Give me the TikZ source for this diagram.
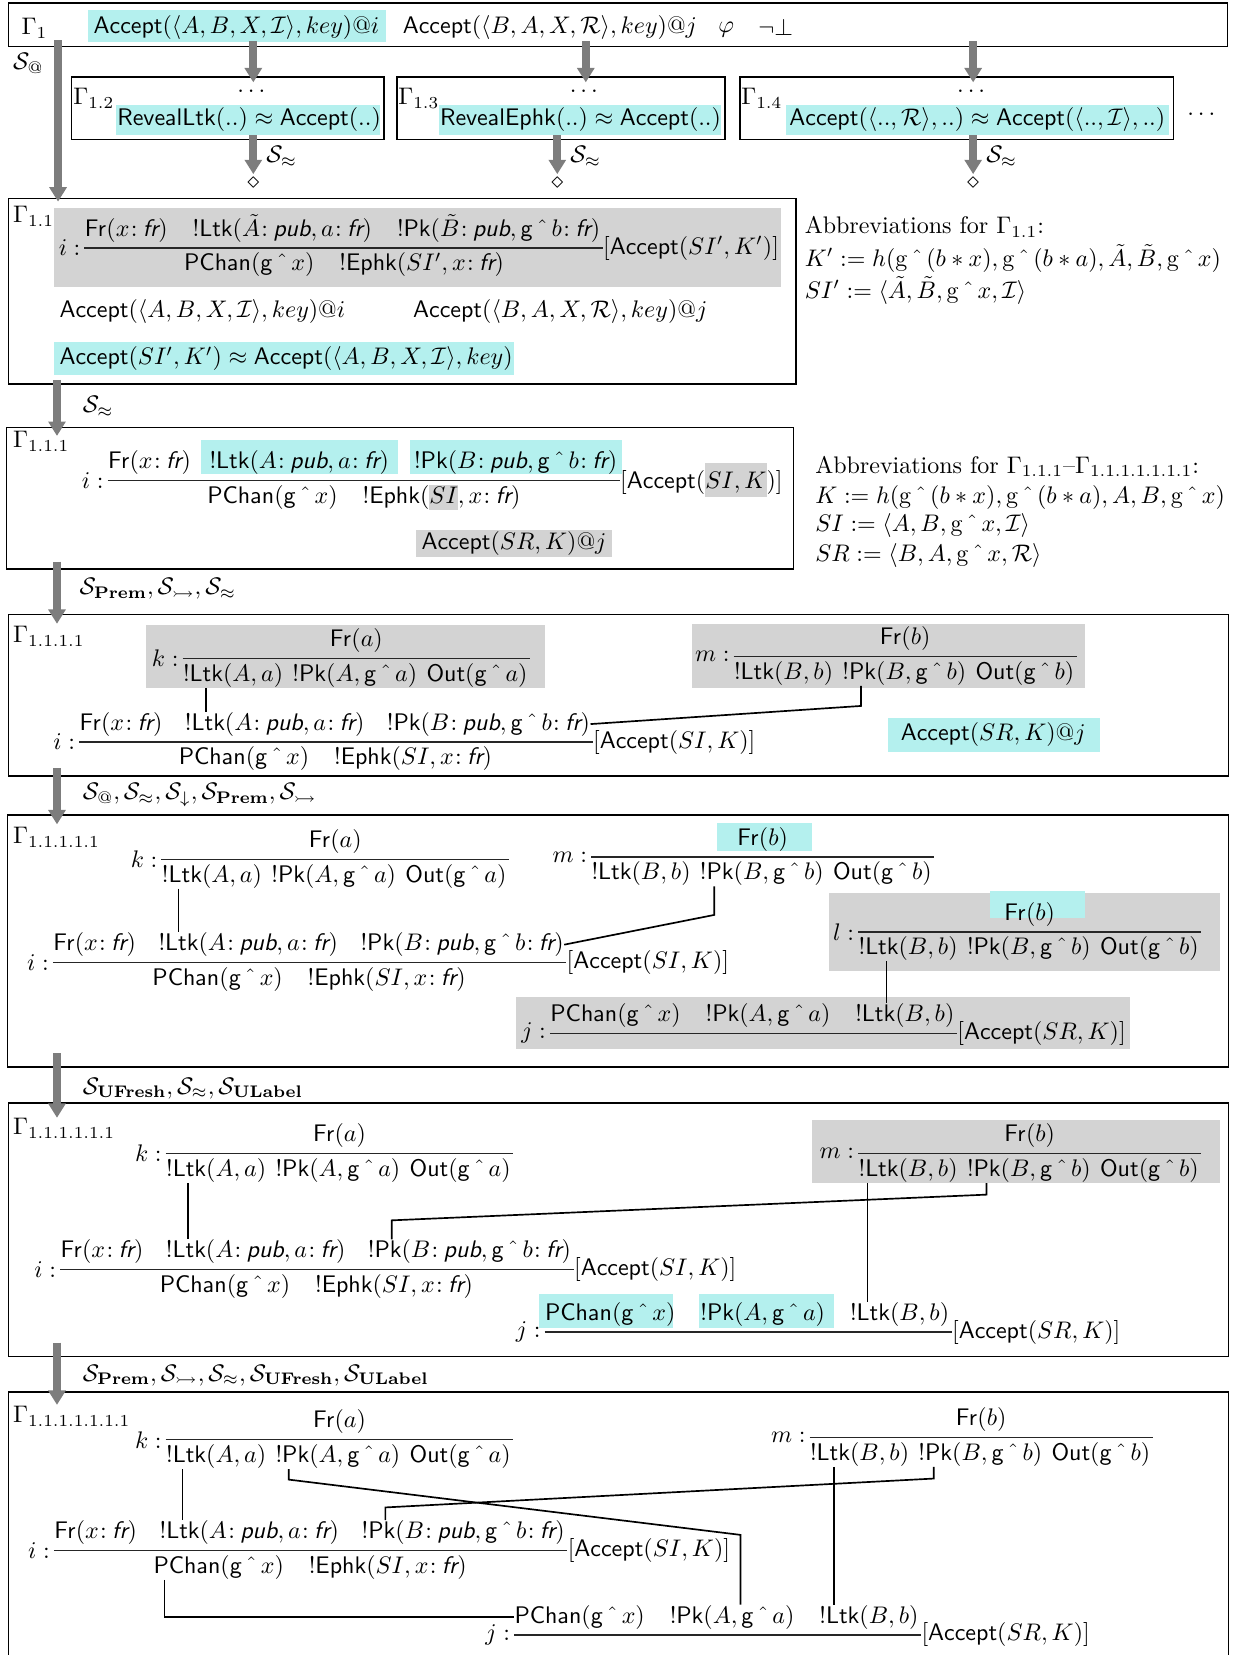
\documentclass[tikz,border=0pt]{standalone}
\usepackage{amsmath,amssymb}
\usetikzlibrary{arrows.meta,positioning,calc}
\definecolor{hlcyan}{RGB}{180,240,238}
\definecolor{hlgray}{RGB}{211,211,211}
\definecolor{stepgray}{RGB}{125,125,125}
\newcommand{\fa}[1]{\mathsf{#1}}
\newcommand{\cln}{\mkern1mu{:}\mskip4mu}
\newcommand{\gx}[1]{\mathsf{g}\mathbin{\hat{\mkern6mu}}#1}
\newcommand{\gr}[1]{\mathrm{g}\mathbin{\hat{\mkern6mu}}#1}
\newcommand{\tfr}{\text{\sffamily\slshape fr}}
\newcommand{\tpub}{\text{\sffamily\slshape pub}}
\newcommand{\hlgs}[1]{{\setlength{\fboxsep}{0pt}\colorbox{hlgray}{$\rule[-2.8pt]{0pt}{10.5pt}#1$}}}
\newcommand{\hlgl}[1]{{\setlength{\fboxsep}{0pt}\colorbox{hlgray}{$\rule[-3.5pt]{0pt}{14pt}#1$}}}
% rule i: prefix, x of fraction line, y of fraction line
\newcommand{\ruleI}[3]{%
  \coordinate (#1ly) at (0,#3);
  \node[fact,anchor=west] (#1p1) at (#2,#3-17) {$\fa{Fr}(x\cln\tfr)$};
  \node[fact,base right=9pt of #1p1] (#1p2) {$\fa{!Ltk}(A\cln\tpub, a\cln\tfr)$};
  \node[fact,base right=9pt of #1p2] (#1p3) {$\fa{!Pk}(B\cln\tpub, \gx{b}\cln\tfr)$};
  \coordinate (#1ls) at (#1p1.west |- #1ly);
  \draw[fracline] (#1ls) -- ($(#1p3.east |- #1ly)+(2,0)$) coordinate (#1le);
  \node[fact,anchor=east,xshift=-1.5pt] (#1lab) at (#1ls) {$i:$};
  \node[fact,anchor=west] (#1c1) at (#2+94,#3+16) {$\fa{PChan}(\gx{x})$};
  \node[fact,base right=10pt of #1c1] (#1c2) {$\fa{!Ephk}(SI, x\cln\tfr)$};
  \node[fact,anchor=west] (#1act) at (#1le) {$[\fa{Accept}(SI, K)]$};
}
% rule j: prefix, x, y of fraction line
\newcommand{\ruleJ}[3]{%
  \coordinate (#1ly) at (0,#3);
  \node[fact,anchor=west] (#1p1) at (#2,#3-17) {$\fa{PChan}(\gx{x})$};
  \node[fact,base right=10pt of #1p1] (#1p2) {$\fa{!Pk}(A, \gx{a})$};
  \node[fact,base right=10pt of #1p2] (#1p3) {$\fa{!Ltk}(B, b)$};
  \coordinate (#1ls) at (#1p1.west |- #1ly);
  \draw[fracline] (#1ls) -- ($(#1p3.east |- #1ly)+(2,0)$) coordinate (#1le);
  \node[fact,anchor=east,xshift=-1.5pt] (#1lab) at (#1ls) {$j:$};
  \node[fact,anchor=west] (#1act) at (#1le) {$[\fa{Accept}(SR, K)]$};
}
% key generation rule: prefix, x, y of fraction line, rule name, agent, key
\newcommand{\ruleK}[6]{%
  \coordinate (#1ly) at (0,#3);
  \node[fact,anchor=west] (#1c1) at (#2,#3+16) {$\fa{!Ltk}(#5, #6)$};
  \node[fact,base right=3.5pt of #1c1] (#1c2) {$\fa{!Pk}(#5, \gx{#6})$};
  \node[fact,base right=3.5pt of #1c2] (#1c3) {$\fa{Out}(\gx{#6})$};
  \coordinate (#1ls) at (#1c1.west |- #1ly);
  \draw[fracline] (#1ls) -- ($(#1c3.east |- #1ly)+(2,0)$) coordinate (#1le);
  \node[fact] (#1p1) at ($(#1ls)!0.5!(#1le)+(0,-17)$) {$\fa{Fr}(#6)$};
  \node[fact,anchor=east,xshift=-1.5pt] (#1lab) at (#1ls) {$#4:$};
}
\begin{document}
\begin{tikzpicture}[x=0.44pt,y=-0.44pt,
  frame/.style={draw=black,line width=0.6pt},
  fact/.style={inner sep=0pt},
  lbl/.style={inner sep=0pt,anchor=west},
  fracline/.style={draw=black!85,line width=0.5pt},
  conn/.style={draw=black,line width=0.7pt},
  stepar/.style={draw=stepgray,line width=3.2pt,-{Triangle[width=7pt,length=6pt]}},
  cy/.style={fill=hlcyan},
  gy/.style={fill=hlgray}]
\useasboundingbox (0,0) rectangle (1191,1568);

% ---------- Gamma_1 ----------
\draw[frame] (8,3) rectangle (1163,44);
\fill[cy] (83,9) rectangle (366,40);
\node[lbl] (g1) at (20,27) {$\Gamma_1$};
\node[fact] (top1) at (224,26) {$\fa{Accept}(\langle A, B, X, \mathcal{I}\rangle, key)@i$};
\node[fact] (top2) at (521,26) {$\fa{Accept}(\langle B, A, X, \mathcal{R}\rangle, key)@j$};
\node[fact] (phi) at (688,28) {$\varphi$};
\node[fact] (nbot) at (735,26) {$\neg\bot$};

% ---------- Gamma_1.2 .. Gamma_1.4 ----------
\draw[frame] (68,73) rectangle (364,132);
\draw[frame] (376,73) rectangle (687,132);
\draw[frame] (701,73) rectangle (1112,132);
\fill[cy] (110,99) rectangle (360,128);
\fill[cy] (416,99) rectangle (683,128);
\fill[cy] (745,99) rectangle (1108,128);
\node[lbl] (g12) at (69,93) {$\Gamma_{1.2}$};
\node[lbl] (g13) at (377,93) {$\Gamma_{1.3}$};
\node[lbl] (g14) at (702,93) {$\Gamma_{1.4}$};
\node[fact] (d12) at (240,86) {$\dots$};
\node[fact] (d13) at (555,86) {$\dots$};
\node[fact] (d14) at (922,86) {$\dots$};
\node[fact] (r12) at (236,113) {$\fa{RevealLtk}(..) \approx \fa{Accept}(..)$};
\node[fact] (r13) at (550,113) {$\fa{RevealEphk}(..) \approx \fa{Accept}(..)$};
\node[fact] (r14) at (926,113) {$\fa{Accept}(\langle .., \mathcal{R}\rangle, ..) \approx \fa{Accept}(\langle .., \mathcal{I}\rangle, ..)$};
\node[fact] (dmore) at (1140,108) {$\dots$};
\node[fact] (e12) at (240,174) {$\diamond$};
\node[fact] (e13) at (528,174) {$\diamond$};
\node[fact] (e14) at (922,174) {$\diamond$};
\node[lbl] (s12) at (252,148) {$\mathcal{S}_{\approx}$};
\node[lbl] (s13) at (540,148) {$\mathcal{S}_{\approx}$};
\node[lbl] (s14) at (934,148) {$\mathcal{S}_{\approx}$};
\node[lbl] (s11) at (12,60) {$\mathcal{S}_{@}$};

% ---------- Gamma_1.1 ----------
\draw[frame] (8,188) rectangle (754,364);
\fill[gy] (51,197) rectangle (740,272);
\fill[cy] (51,324) rectangle (487,355);
\node[lbl] (g11) at (12,205) {$\Gamma_{1.1}$};
\coordinate (iXly) at (0,235);
\node[fact,anchor=west] (iXp1) at (80,218) {$\fa{Fr}(x\cln\tfr)$};
\node[fact,base right=10pt of iXp1] (iXp2) {$\fa{!Ltk}(\tilde{A}\cln\tpub, a\cln\tfr)$};
\node[fact,base right=10pt of iXp2] (iXp3) {$\fa{!Pk}(\tilde{B}\cln\tpub, \gx{b}\cln\tfr)$};
\coordinate (iXls) at (iXp1.west |- iXly);
\draw[fracline] (iXls) -- ($(iXp3.east |- iXly)+(2,0)$) coordinate (iXle);
\node[fact,anchor=east,xshift=-1.5pt] (iXlab) at (iXls) {$i:$};
\node[fact,anchor=west] (iXc1) at (174,251) {$\fa{PChan}(\gx{x})$};
\node[fact,base right=10pt of iXc1] (iXc2) {$\fa{!Ephk}(SI', x\cln\tfr)$};
\node[fact,anchor=west] (iXact) at (iXle) {$[\fa{Accept}(SI', K')]$};
\node[lbl] (a11i) at (56,295) {$\fa{Accept}(\langle A, B, X, \mathcal{I}\rangle, key)@i$};
\node[lbl] (a11j) at (391,295) {$\fa{Accept}(\langle B, A, X, \mathcal{R}\rangle, key)@j$};
\node[lbl] (a11eq) at (56,340) {$\fa{Accept}(SI', K') \approx \fa{Accept}(\langle A, B, X, \mathcal{I}\rangle, key)$};
\node[lbl] (ab1) at (762,215) {Abbreviations for $\Gamma_{1.1}$:};
\node[lbl] (ab2) at (762,245) {$K' := h(\gr{(b*x)}, \gr{(b*a)}, \tilde{A}, \tilde{B}, \gr{x})$};
\node[lbl] (ab3) at (762,275) {$SI' := \langle \tilde{A}, \tilde{B}, \gr{x}, \mathcal{I}\rangle$};
\node[lbl] (s111) at (78,385) {$\mathcal{S}_{\approx}$};

% ---------- Gamma_1.1.1 ----------
\draw[frame] (6,405) rectangle (752,539);
\fill[cy] (190,417) rectangle (377,449);
\fill[cy] (388,417) rectangle (589,449);
\fill[gy] (394,502) rectangle (580,528);
\node[lbl] (g111) at (12,418) {$\Gamma_{1.1.1}$};
\coordinate (iYly) at (0,455);
\node[fact,anchor=west] (iYp1) at (102,438) {$\fa{Fr}(x\cln\tfr)$};
\node[fact] (iYp2) at (283.5,438) {$\fa{!Ltk}(A\cln\tpub, a\cln\tfr)$};
\node[fact] (iYp3) at (488.5,438) {$\fa{!Pk}(B\cln\tpub, \gx{b}\cln\tfr)$};
\coordinate (iYls) at (iYp1.west |- iYly);
\draw[fracline] (iYls) -- ($(iYp3.east |- iYly)+(2,0)$) coordinate (iYle);
\node[fact,anchor=east,xshift=-1.5pt] (iYlab) at (iYls) {$i:$};
\node[fact,anchor=west] (iYc1) at (196,471) {$\fa{PChan}(\gx{x})$};
\node[fact,base right=10pt of iYc1] (iYc2) {$\fa{!Ephk}(\hlgs{SI}, x\cln\tfr)$};
\node[fact,anchor=west] (iYact) at (iYle) {$[\fa{Accept}(\hlgl{SI, K})]$};
\node[fact] (a111j) at (487,515) {$\fa{Accept}(SR, K)@j$};
\node[lbl] (ac1) at (772,442) {Abbreviations for $\Gamma_{1.1.1}$--$\Gamma_{1.1.1.1.1.1.1}$:};
\node[lbl] (ac2) at (772,471) {$K := h(\gr{(b*x)}, \gr{(b*a)}, A, B, \gr{x})$};
\node[lbl] (ac3) at (772,498) {$SI := \langle A, B, \gr{x}, \mathcal{I}\rangle$};
\node[lbl] (ac4) at (772,526) {$SR := \langle B, A, \gr{x}, \mathcal{R}\rangle$};
\node[lbl] (s1111) at (75,558) {$\mathcal{S}_{\mathbf{Prem}}, \mathcal{S}_{\rightarrowtail}, \mathcal{S}_{\approx}$};

% ---------- Gamma_1.1.1.1 ----------
\draw[frame] (8,582) rectangle (1164,735);
\fill[gy] (138,592) rectangle (516,652);
\fill[gy] (656,591) rectangle (1028,652);
\fill[cy] (841,680) rectangle (1042,712);
\node[lbl] (g1111) at (12,603) {$\Gamma_{1.1.1.1}$};
\ruleK{kA}{173}{624}{k}{A}{a}
\ruleK{mA}{695}{622}{m}{B}{b}
\ruleI{iA}{75}{703}
\node[fact] (a1111j) at (941,696) {$\fa{Accept}(SR, K)@j$};
\draw[conn] ($(kAc1.south west)+(22,0)$) coordinate (kAo) -- (kAo |- iAp2.north);
\draw[conn] ($(mAc2.south west)+(18,0)$) -- ++(0,19) -- (iAp3.east);
\node[lbl] (s11111) at (78,753) {$\mathcal{S}_{@}, \mathcal{S}_{\approx}, \mathcal{S}_{\downarrow}, \mathcal{S}_{\mathbf{Prem}}, \mathcal{S}_{\rightarrowtail}$};

% ---------- Gamma_1.1.1.1.1 ----------
\draw[frame] (7,772) rectangle (1164,1011);
\fill[cy] (679,780) rectangle (769,806);
\fill[gy] (785,846) rectangle (1156,920);
\fill[cy] (938,844) rectangle (1028,870);
\fill[gy] (489,945) rectangle (1071,994);
\node[lbl] (g11111) at (12,793) {$\Gamma_{1.1.1.1.1}$};
\ruleK{kB}{153}{814}{k}{A}{a}
\ruleK{mB}{560}{812}{m}{B}{b}
\ruleK{lB}{813}{883}{l}{B}{b}
\ruleI{iB}{50}{912}
\ruleJ{jB}{521}{979}
\draw[conn] ($(kBc1.south west)+(16,0)$) coordinate (kBo) -- (kBo |- iBp2.north);
\draw[conn] ($(mBc2.south west)+(14,0)$) -- ++(0,27) -- (iBp3.east);
\draw[conn] ($(lBc1.south west)+(27,0)$) coordinate (lBo) -- (lBo |- jBp3.north);
\node[lbl] (s111111) at (78,1031) {$\mathcal{S}_{\mathbf{UFresh}}, \mathcal{S}_{\approx}, \mathcal{S}_{\mathbf{ULabel}}$};

% ---------- Gamma_1.1.1.1.1.1 ----------
\draw[frame] (8,1045) rectangle (1164,1285);
\fill[gy] (769,1061) rectangle (1156,1121);
\fill[cy] (511,1226) rectangle (638,1258);
\fill[cy] (662,1226) rectangle (790,1258);
\node[lbl] (g111111) at (12,1069) {$\Gamma_{1.1.1.1.1.1}$};
\ruleK{kC}{157}{1093}{k}{A}{a}
\ruleK{mC}{813}{1093}{m}{B}{b}
\ruleI{iC}{57}{1203}
\ruleJ{jC}{516}{1262}
\draw[conn] ($(kCc1.south west)+(21,0)$) coordinate (kCo) -- (kCo |- iCp2.north);
\draw[conn] ($(mCc2.south west)+(19,0)$) -- ++(0,11) -- ($(iCp3.north west)+(23,-18)$) -- ($(iCp3.north west)+(23,0)$);
\draw[conn] ($(mCc1.south west)+(9,0)$) coordinate (mCo) -- (mCo |- jCp3.north);
\node[lbl] (s1111111) at (78,1303) {$\mathcal{S}_{\mathbf{Prem}}, \mathcal{S}_{\rightarrowtail}, \mathcal{S}_{\approx}, \mathcal{S}_{\mathbf{UFresh}}, \mathcal{S}_{\mathbf{ULabel}}$};

% ---------- Gamma_1.1.1.1.1.1.1 ----------
\draw[frame] (8,1319) rectangle (1164,1600);
\node[lbl] (g1111111) at (12,1342) {$\Gamma_{1.1.1.1.1.1.1}$};
\ruleK{kD}{157}{1364}{k}{A}{a}
\ruleK{mD}{767}{1362}{m}{B}{b}
\ruleI{iD}{51}{1469}
\ruleJ{jD}{487}{1549}
\draw[conn] ($(kDc1.south west)+(16,0)$) coordinate (kDo) -- (kDo |- iDp2.north);
\draw[conn] ($(kDc2.south west)+(13,0)$) -- ++(0,10) -- ($(jDp2.north)+(8,-66)$) -- ($(jDp2.north)+(8,0)$);
\draw[conn] ($(mDc2.south west)+(15,0)$) -- ++(0,11) -- ($(iDp3.north west)+(23,-12)$) -- ($(iDp3.north west)+(23,0)$);
\draw[conn] ($(mDc1.south west)+(23,0)$) coordinate (mDo) -- (mDo |- jDp3.north);
\draw[conn] ($(iDc1.south west)+(11,0)$) |- (jDp1.west);

% ---------- proof steps ----------
\draw[stepar] (55,38) -- (55,191);
\draw[stepar] (240,39) -- (240,78);
\draw[stepar] (555,39) -- (555,78);
\draw[stepar] (922,39) -- (922,78);
\draw[stepar] (240,128) -- (240,165);
\draw[stepar] (528,128) -- (528,165);
\draw[stepar] (922,128) -- (922,165);
\draw[stepar] (54,360) -- (54,413);
\draw[stepar] (54,532) -- (54,591);
\draw[stepar] (54,728) -- (54,781);
\draw[stepar] (54,998) -- (54,1059);
\draw[stepar] (54,1272) -- (54,1331);
\end{tikzpicture}
\end{document}
